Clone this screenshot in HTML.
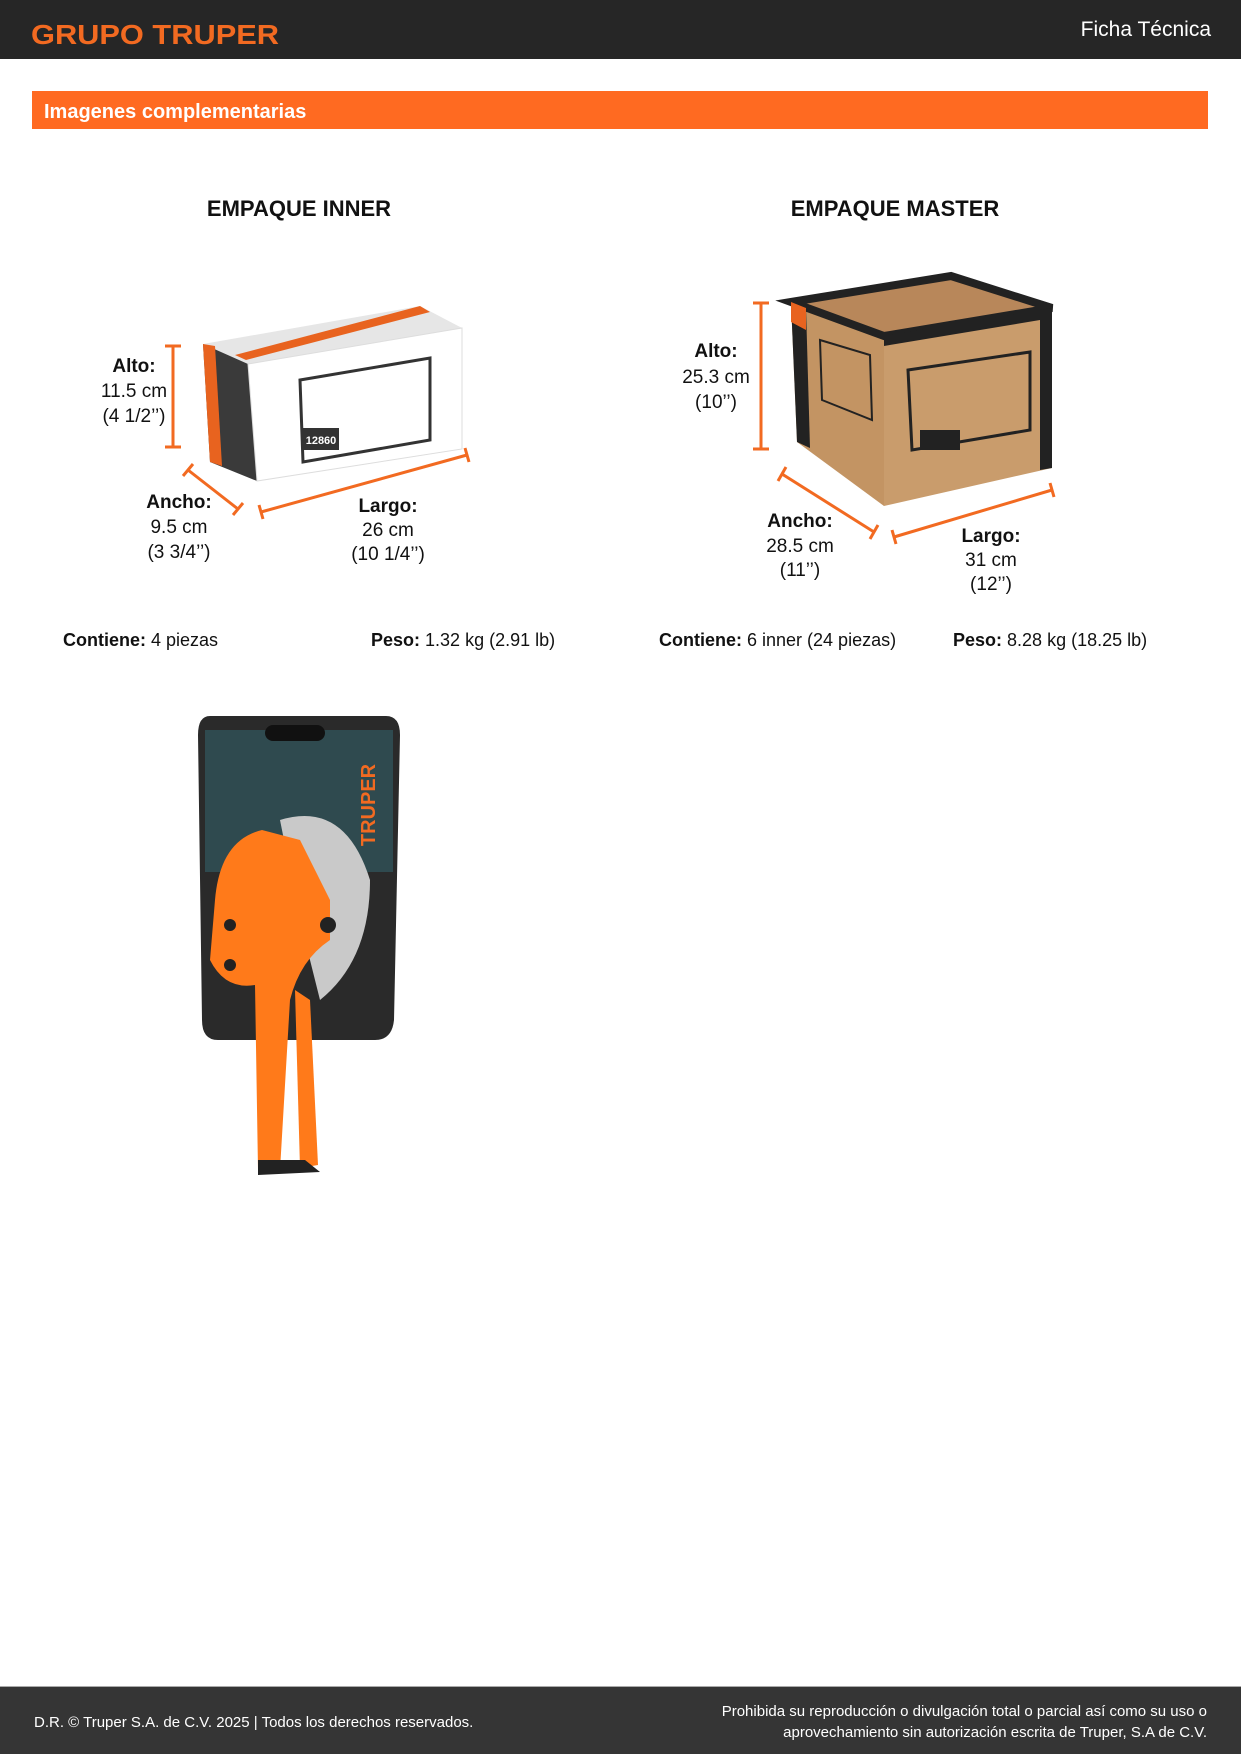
<!DOCTYPE html>
<html><head><meta charset="utf-8"><style>
body{margin:0;width:1241px;height:1754px;overflow:hidden;background:#fff}
svg text{font-family:"Liberation Sans",sans-serif}
</style></head><body>
<svg width="1241" height="1754" viewBox="0 0 1241 1754" xmlns="http://www.w3.org/2000/svg">
<rect x="0" y="0" width="1241" height="59" fill="#262626"/>
<text x="31" y="44" font-size="28" font-weight="bold" fill="#f26a21" textLength="248" lengthAdjust="spacingAndGlyphs">GRUPO TRUPER</text>
<text x="1211" y="36" font-size="21" fill="#fff" text-anchor="end">Ficha Técnica</text>
<rect x="32" y="91" width="1176" height="38" fill="#ff6a21"/>
<text x="44" y="118" font-size="20" font-weight="bold" fill="#fff">Imagenes complementarias</text>

<g font-weight="bold" font-size="22" text-anchor="middle" fill="#111">
<text x="299" y="216">EMPAQUE INNER</text>
<text x="895" y="216">EMPAQUE MASTER</text>
</g>

<!-- inner box -->
<polygon points="203,344 420,306 462,328 248,364" fill="#e6e6e6"/>
<polygon points="203,344 248,364 257,481 210,462" fill="#3a3a3a"/>
<polygon points="203,344 215,346 222,466 210,462" fill="#e8631f"/>
<polygon points="248,364 462,328 462,449 257,481" fill="#fff" stroke="#ddd"/>
<polygon points="235,355 420,306 430,312 246,360" fill="#e8631f"/>
<polygon points="300,380 430,358 430,440 303,462" fill="#fff" stroke="#333" stroke-width="3"/>
<rect x="303" y="428" width="36" height="22" fill="#333"/>
<text x="321" y="444" font-size="11" fill="#fff" text-anchor="middle" font-weight="bold">12860</text>

<!-- master box -->
<polygon points="791,302 951,276 1052,308 884,336" fill="#b8875a"/>
<polygon points="791,302 884,336 884,506 797,442" fill="#c39463"/>
<polygon points="884,336 1052,308 1052,468 884,506" fill="#c99c6c"/>
<polygon points="791,302 951,276 1052,308 884,336" fill="none" stroke="#222" stroke-width="8"/>
<polygon points="791,302 806,308 810,448 797,442" fill="#222"/>
<polygon points="791,302 806,308 806,330 791,322" fill="#e8631f"/>
<polygon points="884,336 1052,308 1052,318 884,346" fill="#222"/>
<polygon points="1040,310 1052,308 1052,468 1040,470" fill="#222"/>
<polygon points="908,370 1030,352 1030,430 912,450" fill="none" stroke="#222" stroke-width="3"/>
<rect x="920" y="430" width="40" height="20" fill="#222"/>
<polygon points="820,340 870,355 872,420 822,400" fill="none" stroke="#222" stroke-width="2"/>

<!-- dimension lines -->
<g stroke="#f26a21" stroke-width="3" fill="none">
<line x1="173" y1="346" x2="173" y2="447"/><line x1="165" y1="346" x2="181" y2="346"/><line x1="165" y1="447" x2="181" y2="447"/>
<line x1="188" y1="470" x2="238" y2="509"/><line x1="183" y1="476" x2="193" y2="464"/><line x1="233" y1="515" x2="243" y2="503"/>
<line x1="261" y1="512" x2="467" y2="455"/><line x1="259" y1="505" x2="263" y2="519"/><line x1="465" y1="448" x2="469" y2="462"/>
<line x1="761" y1="303" x2="761" y2="449"/><line x1="753" y1="303" x2="769" y2="303"/><line x1="753" y1="449" x2="769" y2="449"/>
<line x1="782" y1="474" x2="874" y2="532"/><line x1="778" y1="481" x2="786" y2="467"/><line x1="870" y1="539" x2="878" y2="525"/>
<line x1="894" y1="537" x2="1052" y2="490"/><line x1="892" y1="530" x2="896" y2="544"/><line x1="1050" y1="483" x2="1054" y2="497"/>
</g>

<g font-size="19" text-anchor="middle" fill="#111">
<text x="134" y="372" font-weight="bold">Alto:</text><text x="134" y="397">11.5 cm</text><text x="134" y="422">(4 1/2’’)</text>
<text x="179" y="508" font-weight="bold">Ancho:</text><text x="179" y="533">9.5 cm</text><text x="179" y="558">(3 3/4’’)</text>
<text x="388" y="512" font-weight="bold">Largo:</text><text x="388" y="536">26 cm</text><text x="388" y="560">(10 1/4’’)</text>
<text x="716" y="357" font-weight="bold">Alto:</text><text x="716" y="383">25.3 cm</text><text x="716" y="408">(10’’)</text>
<text x="800" y="527" font-weight="bold">Ancho:</text><text x="800" y="552">28.5 cm</text><text x="800" y="576">(11’’)</text>
<text x="991" y="542" font-weight="bold">Largo:</text><text x="991" y="566">31 cm</text><text x="991" y="590">(12’’)</text>
</g>
<g font-size="18" fill="#111">
<text x="63" y="646"><tspan font-weight="bold">Contiene:</tspan> 4 piezas</text>
<text x="371" y="646"><tspan font-weight="bold">Peso:</tspan> 1.32 kg (2.91 lb)</text>
<text x="659" y="646"><tspan font-weight="bold">Contiene:</tspan> 6 inner (24 piezas)</text>
<text x="953" y="646"><tspan font-weight="bold">Peso:</tspan> 8.28 kg (18.25 lb)</text>
</g>

<!-- tool -->
<path d="M210,716 H386 Q400,716 400,735 L394,1020 Q392,1040 375,1040 H218 Q202,1040 202,1020 L198,735 Q198,716 210,716 Z" fill="#2a2a2a"/>
<rect x="205" y="730" width="188" height="142" fill="#2f4a4f"/>
<rect x="265" y="725" width="60" height="16" rx="8" fill="#111"/>
<text x="375" y="805" font-size="20" font-weight="bold" fill="#f26a21" transform="rotate(-90 375 805)" text-anchor="middle">TRUPER</text>
<path d="M280,820 Q345,800 370,880 Q370,960 320,1000 L300,920 Z" fill="#c9c9c9"/>
<path d="M262,830 Q220,840 215,900 L210,960 Q225,990 255,985 L258,1170 L280,1170 L290,1000 Q300,960 330,940 L330,900 Q310,860 300,840 Z" fill="#ff7a1a"/>
<path d="M295,990 L310,1000 L318,1165 L300,1168 Z" fill="#ff7a1a"/>
<circle cx="328" cy="925" r="8" fill="#222"/>
<circle cx="230" cy="925" r="6" fill="#222"/>
<circle cx="230" cy="965" r="6" fill="#222"/>
<path d="M258,1160 L258,1175 L320,1172 L305,1160 Z" fill="#222"/>

<rect x="0" y="1687" width="1241" height="67" fill="#353535"/>
<rect x="0" y="1686" width="1241" height="1" fill="#aaa"/>
<g font-size="15" fill="#fff">
<text x="34" y="1727">D.R. © Truper S.A. de C.V. 2025 | Todos los derechos reservados.</text>
<text x="1207" y="1716" text-anchor="end">Prohibida su reproducción o divulgación total o parcial así como su uso o</text>
<text x="1207" y="1737" text-anchor="end">aprovechamiento sin autorización escrita de Truper, S.A de C.V.</text>
</g>
</svg>
</body></html>
